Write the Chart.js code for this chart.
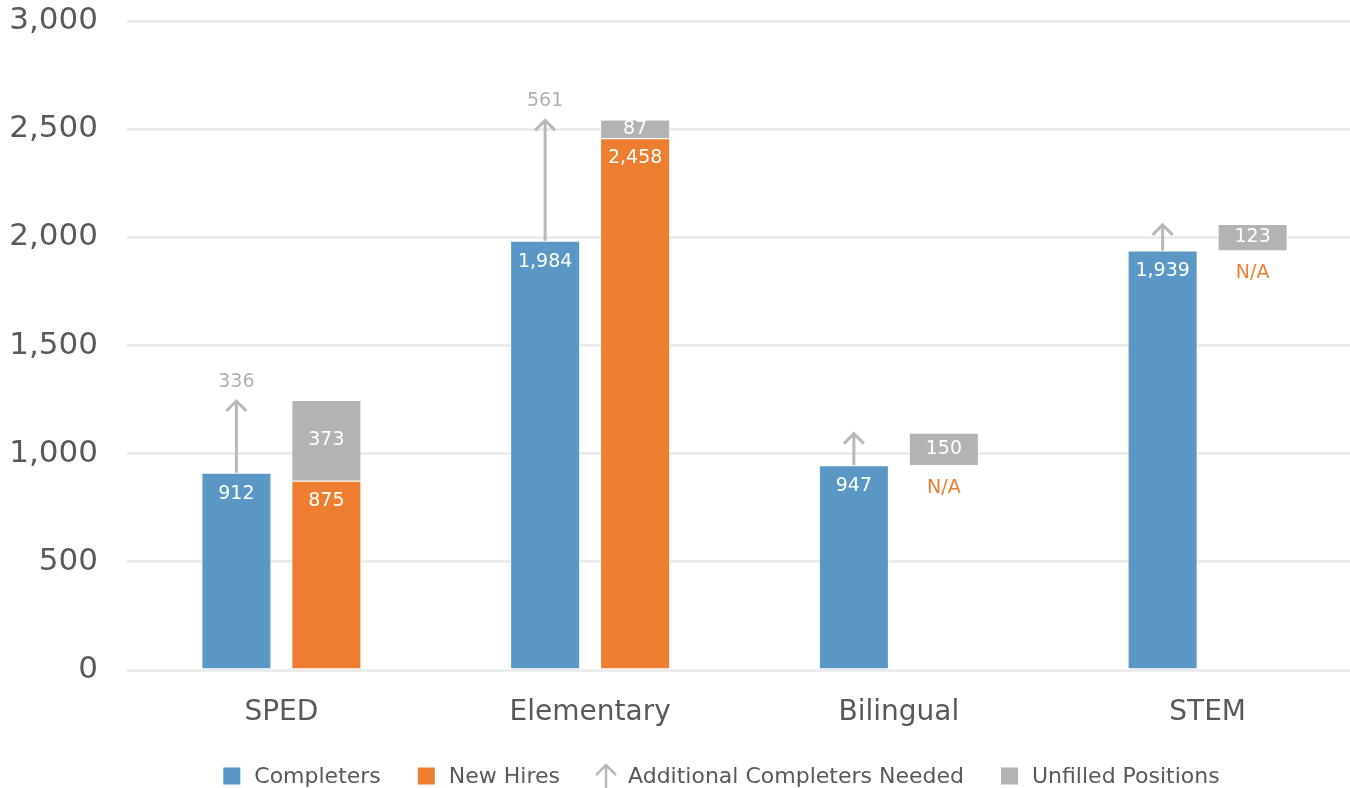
<!DOCTYPE html>
<html>
<head>
<meta charset="utf-8">
<script src="https://cdn.jsdelivr.net/npm/chart.js@4/dist/chart.umd.min.js"></script>
<style>
  html, body { margin: 0; padding: 0; background: #fff; overflow: hidden; }
  #wrap { width: 1362px; height: 788px; position: relative; }
</style>
</head>
<body>
<div id="wrap"><canvas id="pipeline"></canvas></div>
<script>
const categories = ['SPED', 'Elementary', 'Bilingual', 'STEM'];
const completers = [912, 1984, 947, 1939];
const newHires = [875, 2458, null, null];
const unfilled = [373, 87, 150, 123];
const additionalNeeded = [336, 561, null, null];
const yTicks = [0, 500, 1000, 1500, 2000, 2500, 3000];
const legendItems = ['Completers', 'New Hires', 'Additional Completers Needed', 'Unfilled Positions'];

const BLUE = '#5b97c4';
const ORANGE = '#ed7d31';
const GRAY = '#b3b3b3';
const ARROW = '#b8b8b8';
const TEXT = '#595959';
const FONT = "'DejaVu Sans', sans-serif";

const fmt = v => v.toLocaleString('en-US');

// unfilled positions sit on top of new hires (or completers when hires are n/a)
const unfilledBars = unfilled.map((v, i) => {
  const base = newHires[i] ?? completers[i];
  return [base, base + v];
});

function drawArrow(ctx, x, yBottom, yTop) {
  ctx.beginPath();
  ctx.moveTo(x, yBottom);
  ctx.lineTo(x, yTop + 1);
  ctx.moveTo(x - 10, yTop + 11);
  ctx.lineTo(x, yTop + 1);
  ctx.lineTo(x + 10, yTop + 11);
  ctx.stroke();
}

const arrowsAndLabels = {
  id: 'arrowsAndLabels',
  afterDatasetsDraw(chart) {
    const ctx = chart.ctx;
    const y = chart.scales.y;
    const blue = chart.getDatasetMeta(0).data;
    const orange = chart.getDatasetMeta(1).data;
    const gray = chart.getDatasetMeta(2).data;
    ctx.save();
    ctx.textAlign = 'center';
    ctx.textBaseline = 'middle';
    ctx.font = '19px ' + FONT;

    categories.forEach((cat, i) => {
      // arrow from top of completers up to total demand
      const extra = additionalNeeded[i] ?? unfilled[i];
      const x = blue[i].x;
      const y0 = y.getPixelForValue(completers[i]);
      const y1 = y.getPixelForValue(completers[i] + extra);
      ctx.strokeStyle = ARROW;
      ctx.lineWidth = 3;
      drawArrow(ctx, x, y0, y1);
      if (additionalNeeded[i] != null) {
        ctx.fillStyle = '#b0b0b0';
        ctx.fillText(fmt(additionalNeeded[i]), x, y1 - 18);
      }

      // completers value
      ctx.fillStyle = '#fff';
      ctx.fillText(fmt(completers[i]), x, y0 + 21);

      // new hires value or N/A
      const g = gray[i];
      if (newHires[i] != null) {
        ctx.fillText(fmt(newHires[i]), orange[i].x, y.getPixelForValue(newHires[i]) + 20);
      } else {
        ctx.fillStyle = ORANGE;
        ctx.fillText('N/A', g.x, g.base + 23);
      }

      // unfilled value in the middle of the grey block
      ctx.fillStyle = '#fff';
      ctx.fillText(fmt(unfilled[i]), g.x, (g.y + g.base) / 2);
    });
    ctx.restore();
  }
};

// legend row under the axis: squares for bars, an arrow for the gap
const bottomLegend = {
  id: 'bottomLegend',
  afterDraw(chart) {
    const ctx = chart.ctx;
    const area = chart.chartArea;
    const symbols = [BLUE, ORANGE, 'arrow', GRAY];
    const symW = 17, textGap = 14, itemGap = 37;
    ctx.save();
    ctx.font = '22px ' + FONT;
    ctx.textBaseline = 'middle';
    const widths = legendItems.map(t => ctx.measureText(t).width);
    const total = widths.reduce((a, w) => a + symW + textGap + w, 0) + itemGap * (legendItems.length - 1);
    let x = (area.left + area.right) / 2 - 23 - total / 2;
    const yMid = 776;
    legendItems.forEach((t, i) => {
      const s = symbols[i];
      if (s === 'arrow') {
        ctx.strokeStyle = ARROW;
        ctx.lineWidth = 2.5;
        drawArrow(ctx, x + 9, yMid + 12, yMid - 12);
      } else {
        ctx.fillStyle = s;
        ctx.fillRect(x, yMid - 8.5, symW, symW);
      }
      x += symW + textGap;
      ctx.fillStyle = TEXT;
      ctx.fillText(t, x, yMid + 1);
      x += widths[i] + itemGap;
    });
    ctx.restore();
  }
};

new Chart(document.getElementById('pipeline'), {
  type: 'bar',
  data: {
    labels: categories,
    datasets: [
      {
        label: 'Completers',
        data: completers,
        backgroundColor: BLUE,
        borderColor: 'rgba(255,255,255,0.5)',
        borderWidth: 1,
        stack: 'supply'
      },
      {
        label: 'New Hires',
        data: newHires,
        backgroundColor: ORANGE,
        borderColor: 'rgba(255,255,255,0.5)',
        borderWidth: 1,
        stack: 'demand'
      },
      {
        label: 'Unfilled Positions',
        data: unfilledBars,
        backgroundColor: GRAY,
        borderColor: 'rgba(255,255,255,0.5)',
        borderWidth: 1,
        stack: 'demand'
      }
    ]
  },
  options: {
    responsive: true,
    maintainAspectRatio: false,
    animation: false,
    categoryPercentage: 0.583,
    barPercentage: 0.778,
    layout: {
      padding: { top: 21, left: 10, right: 0, bottom: 60 }
    },
    plugins: {
      tooltip: { enabled: false },
      legend: { display: false }
    },
    scales: {
      x: {
        grid: { display: false },
        border: { display: false },
        afterFit: s => { s.height = 58; },
        ticks: {
          padding: 18,
          color: TEXT,
          font: { family: FONT, size: 28 }
        }
      },
      y: {
        stacked: false,
        min: 0,
        max: 3000,
        afterBuildTicks: s => { s.ticks = yTicks.map(v => ({ value: v })); },
        afterFit: s => { s.width = 117; s.paddingTop = 0; },
        grid: { color: '#ececec', lineWidth: 3, drawTicks: false },
        border: { display: false },
        ticks: {
          padding: 29,
          color: TEXT,
          font: { family: FONT, size: 31 },
          callback: v => fmt(v)
        }
      }
    }
  },
  plugins: [arrowsAndLabels, bottomLegend]
});
</script>
</body>
</html>
